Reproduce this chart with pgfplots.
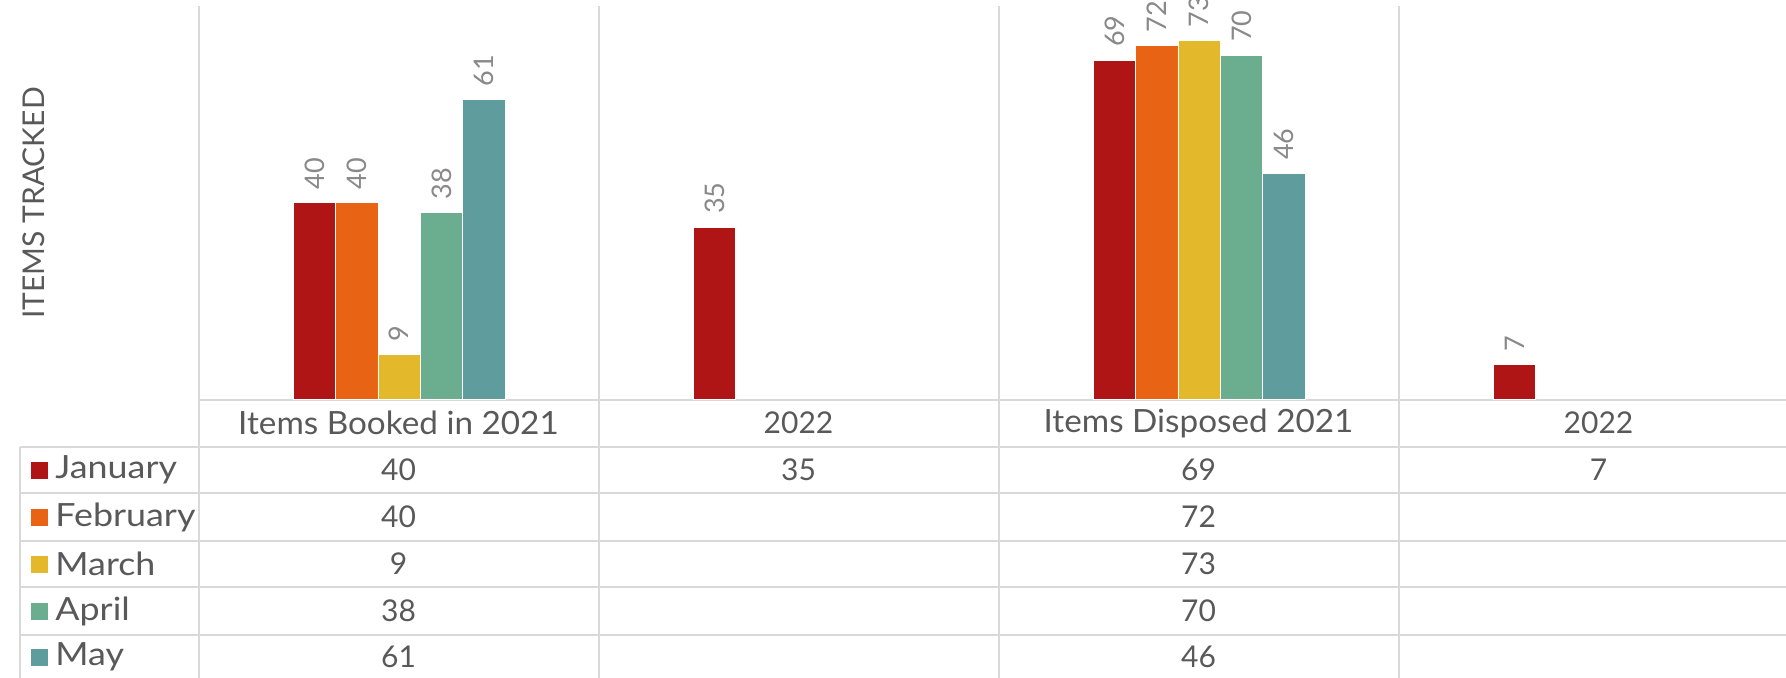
\documentclass[border=0pt]{standalone}
\usepackage{fontspec}
\setmainfont{Lato}
\newfontfamily\hdrfont[FakeStretch=1.04]{Lato}
\newfontfamily\legfont[FakeStretch=1.12]{Lato}
\usepackage{pgfplots}
\pgfplotsset{compat=1.18}
\definecolor{cJan}{RGB}{176,21,21}
\definecolor{cFeb}{RGB}{233,99,21}
\definecolor{cMar}{RGB}{228,184,43}
\definecolor{cApr}{RGB}{106,173,143}
\definecolor{cMay}{RGB}{95,156,157}
\definecolor{gridc}{RGB}{217,217,217}
\definecolor{txt}{RGB}{89,89,89}
\definecolor{lbl}{RGB}{137,137,137}
\newcommand{\tabfont}{\fontsize{15}{18}\selectfont}
\newcommand{\wordfont}{\hdrfont\fontsize{16}{19}\selectfont}
\newcommand{\legword}{\legfont\fontsize{16}{19}\selectfont}
\begin{document}
\begin{tikzpicture}
\useasboundingbox (0,0) rectangle (893pt,-339pt);
\clip (0,0) rectangle (893pt,-339pt);
\begin{scope}[x=0.5pt,y=-0.5pt]
  \draw[gridc, line width=1pt] (199,399.5) -- (1786,399.5);
  \foreach \yy in {446.7,493.3,540.5,587.3,634.5}
    \draw[gridc,line width=1pt] (20,\yy) -- (1786,\yy);
  \foreach \xx in {199,598.5,998.5,1398.5}
    \draw[gridc,line width=1pt] (\xx,6.5) -- (\xx,680);
  \draw[gridc,line width=1pt] (20,446.7) -- (20,680);
  % y label
  \node[rotate=90, text=txt, font=\tabfont] at (34,203) {ITEMS TRACKED};
  % header row
  \node[text=txt, font=\wordfont] at (398.5,423) {Items Booked in 2021};
  \node[text=txt, font=\tabfont] at (798.5,423) {2022};
  \node[text=txt, font=\wordfont] at (1198.5,423) {Items Disposed 2021};
  \node[text=txt, font=\tabfont] at (1598.5,423) {2022};
  % legend column
  \foreach \ry/\col/\name in {470/cJan/January, 517/cFeb/February, 564/cMar/March, 611/cApr/April, 657/cMay/May}{
    \fill[\col] (31,\ry-8.5) rectangle (48,\ry+8.5);
    \node[anchor=west, text=txt, font=\legword, inner xsep=0pt] at (55,\ry) {\name};
  }
  % values
  \foreach \ry/\a/\b/\c/\d in {470/40/35/69/7, 517/40//72/, 564/9//73/, 611/38//70/, 657/61//46/}{
    \node[text=txt, font=\tabfont] at (398.5,\ry) {\a};
    \node[text=txt, font=\tabfont] at (798.5,\ry) {\b};
    \node[text=txt, font=\tabfont] at (1198.5,\ry) {\c};
    \node[text=txt, font=\tabfont] at (1598.5,\ry) {\d};
  }
\end{scope}
\begin{axis}[
  at={(99.5pt,-199.5pt)}, anchor=south west,
  scale only axis, width=793.5pt, height=196.5pt,
  xmin=-0.5, xmax=3.4675, ymin=0, ymax=80,
  hide axis, clip=false,
  ybar=0pt, bar width=0.1058,
  nodes near coords,
  every node near coord/.append style={rotate=90, anchor=west, font=\fontsize{13.5}{16}\selectfont, text=lbl, inner xsep=6.5pt},
  /pgf/number format/assume math mode=true,
]
\addplot[fill=cJan, draw=white, line width=0.3pt, bar shift=-0.2116] coordinates {(0,40) (1,35) (2,69) (3,7)};
\addplot[fill=cFeb, draw=white, line width=0.3pt, bar shift=-0.1058] coordinates {(0,40) (2,72)};
\addplot[fill=cMar, draw=white, line width=0.3pt, bar shift=0] coordinates {(0,9) (2,73)};
\addplot[fill=cApr, draw=white, line width=0.3pt, bar shift=0.1058] coordinates {(0,38) (2,70)};
\addplot[fill=cMay, draw=white, line width=0.3pt, bar shift=0.2116] coordinates {(0,61) (2,46)};
\end{axis}
\end{tikzpicture}
\end{document}
